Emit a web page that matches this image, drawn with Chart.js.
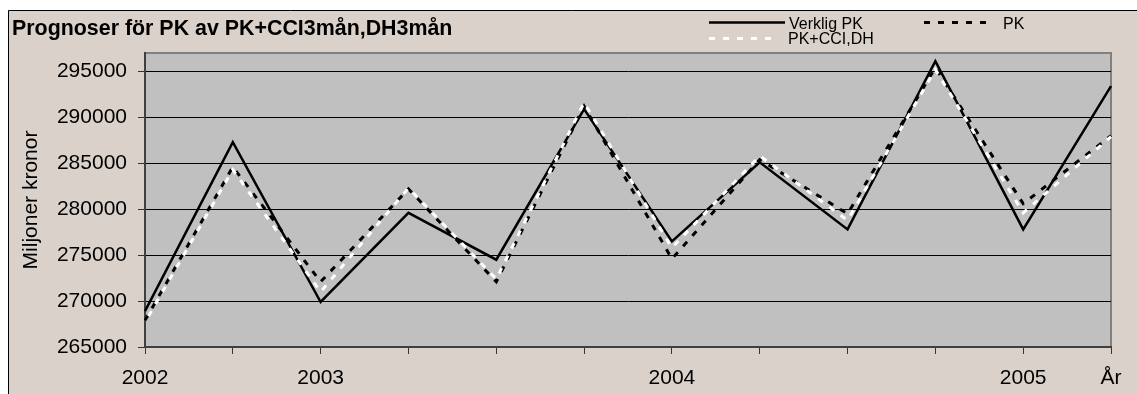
<!DOCTYPE html>
<html>
<head>
<meta charset="utf-8">
<script src="https://cdn.jsdelivr.net/npm/chart.js@4.4.1/dist/chart.umd.min.js"></script>
<style>
  html, body { margin: 0; padding: 0; background: #ffffff; }
  #wrap { width: 1137px; height: 394px; }
  canvas { display: block; }
</style>
</head>
<body>
<div id="wrap"><canvas id="c" width="1137" height="394"></canvas></div>
<script>
// Quarterly consumption (PK), million SEK, with two forecasts
const chartTitle = 'Prognoser för PK av PK+CCI3mån,DH3mån';
const yAxisTitle = 'Miljoner kronor';
const categories = ['2002', '', '2003', '', '', '', '2004', '', '', '', '2005', 'År'];
const seriesNames = ['Verklig PK', 'PK', 'PK+CCI,DH'];
const verkligPK = [268900, 287300, 269900, 279600, 274500, 290900, 276500, 285100, 277800, 296100, 277800, 293400];
const prognosPK = [267900, 284600, 272100, 282200, 272100, 291200, 274600, 285400, 279500, 295400, 280600, 288000];
const prognosPKCCIDH = [267700, 284300, 271000, 282300, 272400, 291600, 275800, 285800, 278800, 295200, 279600, 287900];
const yTickValues = [265000, 270000, 275000, 280000, 285000, 290000, 295000];
const yMin = 265000;
const yMax = 297000;

const FONT = '"Liberation Sans", Arial, Helvetica, sans-serif';
const W = 1137, H = 394;

// Background panel, plot fill, heading and legend
const framePlugin = {
  id: 'frame',
  beforeDraw(chart) {
    const { ctx, chartArea: a } = chart;
    ctx.save();
    ctx.fillStyle = '#ffffff';
    ctx.fillRect(0, 0, W, H);
    ctx.fillStyle = '#d9d1ca';
    ctx.fillRect(8, 10, W - 8, H - 10);
    ctx.strokeStyle = '#000000';
    ctx.lineWidth = 1;
    ctx.beginPath();
    ctx.moveTo(8.5, H);
    ctx.lineTo(8.5, 10.5);
    ctx.lineTo(W, 10.5);
    ctx.stroke();

    ctx.fillStyle = '#c0c0c0';
    ctx.fillRect(a.left, a.top, a.right - a.left, a.bottom - a.top);
    ctx.strokeStyle = '#808080';
    ctx.lineWidth = 2;
    ctx.beginPath();
    ctx.moveTo(a.left, a.top);
    ctx.lineTo(a.right, a.top);
    ctx.lineTo(a.right, a.bottom);
    ctx.stroke();

    ctx.fillStyle = '#000000';
    ctx.font = 'bold 21.4px ' + FONT;
    ctx.textAlign = 'left';
    ctx.textBaseline = 'alphabetic';
    ctx.fillText(chartTitle, 12, 35);
    ctx.restore();
  },
  afterDraw(chart) {
    const { ctx } = chart;
    const items = [
      { i: 0, x0: 709, x1: 785, y: 22.5, tx: 789, ty: 29 },
      { i: 1, x0: 924, x1: 992, y: 22.5, tx: 1003, ty: 29 },
      { i: 2, x0: 709, x1: 777, y: 38.5, tx: 788, ty: 44 }
    ];
    ctx.save();
    ctx.font = '16px ' + FONT;
    ctx.textAlign = 'left';
    ctx.textBaseline = 'alphabetic';
    items.forEach(it => {
      const ds = chart.data.datasets[it.i];
      ctx.strokeStyle = ds.borderColor;
      ctx.lineWidth = ds.borderWidth;
      ctx.setLineDash(ds.borderDash || []);
      ctx.lineDashOffset = 0;
      ctx.beginPath();
      ctx.moveTo(it.x0, it.y);
      ctx.lineTo(it.x1, it.y);
      ctx.stroke();
      ctx.setLineDash([]);
      ctx.fillStyle = '#000000';
      ctx.fillText(ds.label, it.tx, it.ty);
    });
    ctx.restore();
  }
};

new Chart(document.getElementById('c'), {
  type: 'line',
  data: {
    labels: categories,
    datasets: [
      {
        label: seriesNames[0],
        data: verkligPK,
        borderColor: '#000000',
        borderWidth: 2.5,
        pointRadius: 0,
        tension: 0,
        order: 3
      },
      {
        label: seriesNames[1],
        data: prognosPK,
        borderColor: '#000000',
        borderWidth: 3,
        borderDash: [6, 8],
        pointRadius: 0,
        tension: 0,
        order: 2
      },
      {
        label: seriesNames[2],
        data: prognosPKCCIDH,
        borderColor: '#ffffff',
        borderWidth: 3,
        borderDash: [6, 8],
        borderDashOffset: 7,
        pointRadius: 0,
        tension: 0,
        order: 1
      }
    ]
  },
  options: {
    responsive: false,
    devicePixelRatio: 1,
    animation: false,
    events: [],
    layout: { padding: { top: 53, left: 8, right: 26, bottom: 0 } },
    plugins: {
      legend: { display: false },
      title: { display: false },
      tooltip: { enabled: false }
    },
    scales: {
      x: {
        offset: false,
        afterFit(scale) { scale.height = 47; },
        grid: {
          drawOnChartArea: false,
          drawTicks: true,
          tickLength: 7,
          tickColor: '#333333',
          tickWidth: 1
        },
        border: { color: '#404040', width: 2 },
        ticks: {
          autoSkip: false,
          maxRotation: 0,
          padding: 12,
          color: '#000000',
          font: { family: FONT, size: 21 }
        }
      },
      y: {
        min: yMin,
        max: yMax,
        afterBuildTicks(scale) {
          scale.ticks = yTickValues.map(v => ({ value: v }));
        },
        afterFit(scale) { scale.width = 137; },
        grid: {
          color: '#000000',
          lineWidth: 1,
          drawTicks: true,
          tickLength: 7,
          tickColor: '#333333'
        },
        border: { color: '#404040', width: 2 },
        ticks: {
          padding: 11,
          color: '#000000',
          font: { family: FONT, size: 21 },
          callback: v => String(v)
        },
        title: {
          display: true,
          text: yAxisTitle,
          color: '#000000',
          font: { family: FONT, size: 21 },
          padding: { top: 11, bottom: 0 }
        }
      }
    }
  },
  plugins: [framePlugin]
});
</script>
</body>
</html>
